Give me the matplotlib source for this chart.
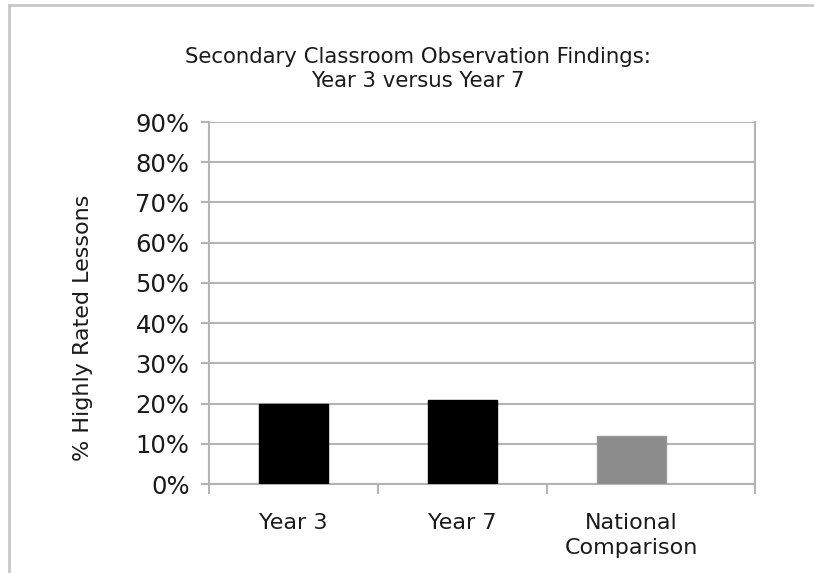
import matplotlib
matplotlib.use("Agg")
import matplotlib.pyplot as plt
from matplotlib.lines import Line2D
from matplotlib.ticker import FuncFormatter, MultipleLocator

categories = ["Year 3", "Year 7", "National\nComparison"]
values = [0.20, 0.21, 0.12]
bar_colors = ["#000000", "#000000", "#8c8c8c"]
edge_colors = ["#000000", "#000000", "#9a9a9a"]
title = "Secondary Classroom Observation Findings:\nYear 3 versus Year 7"
ylabel = "% Highly Rated Lessons"

W, H = 814, 573
fig = plt.figure(figsize=(W / 100, H / 100), dpi=100)
fig.patch.set_facecolor("white")

# axes in pixel coordinates
x0, x1, y_top, y_bot = 209, 755, 122, 484
ax = fig.add_axes([x0 / W, (H - y_bot) / H, (x1 - x0) / W, (y_bot - y_top) / H])

pos = list(range(len(categories)))
ax.bar(pos, values, width=0.41, color=bar_colors, edgecolor=edge_colors, linewidth=1.0, zorder=3)

ax.set_ylim(0, 0.9)
ax.set_xlim(-0.5, 2.73)
ax.yaxis.set_major_locator(MultipleLocator(0.1))
ax.yaxis.set_major_formatter(FuncFormatter(lambda v, p: f"{v*100:.0f}%"))
ax.grid(axis="y", color="#b4b4b4", linewidth=1.5, zorder=0)
ax.set_axisbelow(True)

ax.set_xticks([-0.5, 0.5, 1.5, 2.73])
ax.set_xticklabels([])
ax.set_xticks(pos, minor=True)
ax.set_xticklabels(categories, minor=True, fontsize=16, color="#1a1a1a", linespacing=1.3)
ax.tick_params(axis="x", which="minor", length=0, pad=21)
ax.tick_params(axis="x", which="major", length=7, color="#b4b4b4", width=1.5)
ax.tick_params(axis="y", length=6, color="#b4b4b4", width=1.5, labelsize=17.5, labelcolor="#1a1a1a", pad=8)

for s in ["top"]:
    ax.spines[s].set_visible(False)
for s in ["left", "right", "bottom"]:
    ax.spines[s].set_color("#b4b4b4")
    ax.spines[s].set_linewidth(1.5)

ax.set_ylabel(ylabel, fontsize=16, color="#1a1a1a", va="center")
ax.yaxis.set_label_coords((83 - x0) / (x1 - x0), (y_bot - 328) / (y_bot - y_top))
fig.text(418 / W, 1 - 69 / H, title, ha="center", va="center",
         fontsize=15.3, color="#1a1a1a", linespacing=1.25)

# partial figure border (top and left)
fig.add_artist(Line2D([8.5 / W, 8.5 / W], [0, 1 - 5 / H], transform=fig.transFigure,
                      color="#c8c8c8", linewidth=2))
fig.add_artist(Line2D([8.5 / W, 1], [1 - 5 / H, 1 - 5 / H], transform=fig.transFigure,
                      color="#c8c8c8", linewidth=2))

fig.savefig("out.png", dpi=100, facecolor="white")
